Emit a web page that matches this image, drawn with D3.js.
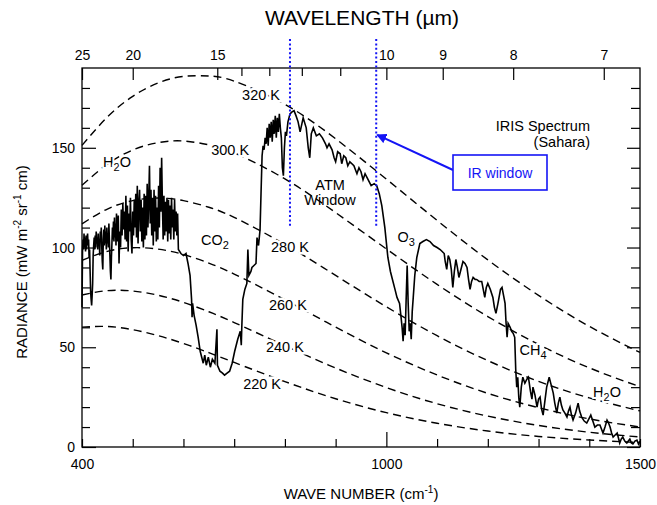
<!DOCTYPE html>
<html>
<head>
<meta charset="utf-8">
<script src="https://cdn.jsdelivr.net/npm/d3@7"></script>
<style>
  body { margin: 0; background: #fff; }
  svg { display: block; }
  text { font-family: "Liberation Sans", Arial, Helvetica, sans-serif; fill: #000; }
</style>
</head>
<body>
<svg id="chart" width="657" height="505"></svg>
<script>
// ---- Blackbody reference curves (radiance, mW m-2 sr-1 cm) ----
const bbWavenumber = [400, 450, 500, 550, 600, 650, 700, 800, 900, 1000, 1100, 1200, 1300, 1400, 1500];
const bb220 = [60.1, 60.4, 58.8, 55.8, 51.9, 47.3, 42.4, 32.8, 24.2, 17.2, 11.9, 8.0, 5.3, 3.5, 2.2];
const bb240 = [76.2, 78.4, 78.2, 76.1, 72.5, 67.8, 62.4, 50.8, 39.6, 29.8, 21.7, 15.5, 10.8, 7.4, 5.0];
const bb260 = [93.6, 98.1, 99.9, 99.2, 96.5, 92.2, 86.7, 73.8, 60.1, 47.2, 36.1, 26.9, 19.7, 14.1, 10.0];
const bb280 = [111.9, 119.3, 123.5, 124.8, 123.5, 120.2, 115.1, 101.6, 86.0, 70.3, 55.8, 43.3, 32.9, 24.6, 18.1];
const bb300 = [131.2, 141.8, 148.9, 152.6, 153.4, 151.5, 147.5, 134.4, 117.5, 99.3, 81.5, 65.4, 51.4, 39.7, 30.2];
const bb320 = [151.2, 165.4, 175.8, 182.5, 185.8, 186.0, 183.4, 171.8, 154.5, 134.3, 113.6, 93.8, 76.0, 60.5, 47.4];
const temperatureLabels = ["220 K", "240 K", "260 K", "280 K", "300 K", "320 K"];

// ---- IRIS spectrum over the Sahara, [wavenumber, radiance] by band ----
const h2oRotBand = [
  [400,70],[401,98],[402,104],[403,99],[404,107],[405,100],[406,105],[407,98],[408,106],[409,99],
  [410,104],[411,107],[412,101],[413,104],[414,95],[415,99],[416,88],[417,78],[418,74],[419,71],
  [420,76],[421,82],[422,96],[423,101],[424,105],[425,99],[426,106],[427,100],[428,108],[429,102],
  [430,105],[431,99],[432,107],[433,101],[434,104],[435,96],[436,108],[437,103],[438,110],[439,100],
  [440,93],[441,89],[442,104],[443,109],[444,101],[445,111],[446,102],[447,108],[448,99],[449,110],
  [450,102],[451,107],[452,100],[453,112],[454,104],[455,96],[456,88],[457,84],[458,95],[459,102],
  [460,110],[461,104],[462,113],[463,103],[464,115],[465,105],[466,112],[467,101],[468,117],[469,108],
  [470,103],[471.5,116],[473,92],[474.5,108],[476,100],[477.5,119],[479,106],[480.5,122],[482,109],[483.5,118],
  [485,104],[486.5,126],[488,103],[489.5,121],[491,98],[492.5,117],[494,108],[495.5,125],[497,104],[498.5,97],
  [500,118],[501.5,106],[503,124],[504.5,110],[506,127],[507.5,105],[509,131],[510.5,102],[512,122],[513.5,129],
  [515,108],[516.5,124],[518,103],[519.5,120],[521,100],[522.5,127],[524,104],[525.5,126],[527,106],[528.5,132],
  [530,110],[531.5,124],[533,141],[534.5,112],[536,129],[537.5,106],[539,125],[540.5,101],[542,129],[543.5,108],
  [545,126],[546.5,103],[548,120],[549.5,104],[551,131],[552.5,110],[554,140],[555.5,118],[557,145],[558.5,122],
  [560,104],[561.5,126],[563,106],[564.5,123],[566,108],[567.5,125],[569,103],[570.5,124],[572,107],[573.5,121],
  [575,104],[576.5,125],[578,110],[579.5,119],[581,104],[582.5,124],[584,108],[585.5,118],[587,106],[588.5,117],
  [590,99]
];
const co2Band = [
  [595,97],[600,96],[605,97],[609,92],[613,86],[616,74],[617,65],[618,72],[621,66],[625,61],[629,55],
  [633,48],[636,45],[639,42],[642,46],[645,41],[649,45],[653,40],[657,44],[662,42],[666,59],[667,41],
  [672,38],[677,37],[681,36],[686,37],[691,38],[696,42],[701,48],[707,54],[712,58],[714,51],[715,60],
  [717,74],[721,79],[725,82],[727,99],[729,86],[733,88],[735,90],[739,91],[743,92],[745,105],[748,101],
  [751,109]
];
const windowBand = [
  [753,128],[755,146],[757,151],[759,149],[761,155],[763,152],[765,160],[767,151],[769,162],[771,155],
  [773,163],[775,153],[777,164],[779,157],[781,166],[783,155],[785,165],[787,158],[789,167],[791,160],
  [793,155],[795,140],[797,136],[799,150],[801,158],[803,156],[806,163],[810,167],[814,168],[818,168.6],
  [822,166],[826,163],[830,158],[836,165],[842,160],[846,150],[849,145],[852,157],[856,160],[862,156],
  [868,157],[874,155],[880,152],[883,150],[887,152],[893,149],[897,145],[900,143],[904,148],[909,147],
  [912,142],[916,146],[920,145],[924,141],[928,143],[936,141],[942,137],[946,140],[950,138],[954,134],
  [958,137],[964,134],[970,131],[976,132],[981,131],[986,127],[991,121],[997,110],[1003,95]
];
const o3Band = [
  [1008,88],[1012,84],[1017,79],[1021,75],[1026,72],[1029,65],[1031,60],[1033,53],[1035,62],[1037,56],
  [1039,74],[1041,91],[1043,72],[1045,58],[1047,62],[1049,54],[1051,68],[1053,75],[1056,86],[1060,95],
  [1066,102],[1072,103],[1079,104],[1086,103],[1093,101],[1100,100],[1106,99],[1110,98],[1114,97],[1116,93],
  [1119,89],[1122,96],[1125,94],[1128,89],[1131,80],[1134,88],[1137,94],[1140,90],[1143,85],[1147,89],
  [1151,93],[1155,92],[1159,90],[1162,84],[1165,79],[1168,83],[1171,85],[1175,84],[1178,84],[1183,83],
  [1188,83],[1191,79],[1194,75],[1197,80],[1200,82],[1205,79],[1210,75],[1213,70],[1216,67],[1220,72],
  [1225,79],[1228,80],[1231,76],[1234,72],[1236,62],[1238,55],[1240,62],[1244,60],[1247,58],[1250,57],
  [1253,55]
];
const ch4H2oBand = [
  [1255,39],[1257,30],[1259,35],[1261,25],[1263,20],[1266,30],[1269,35],[1273,32],[1277,34],[1280,35],
  [1284,28],[1287,24],[1289,30],[1293,26],[1297,20],[1300,24],[1303,25],[1306,19],[1309,16],[1312,22],
  [1316,30],[1321,35],[1325,31],[1329,27],[1332,22],[1336,17],[1339,22],[1342,25],[1345,21],[1348,18.6],
  [1352,17],[1356,15],[1359,18],[1362,20],[1365,16],[1368,13.5],[1373,17],[1378,22],[1381,18],[1385,15],
  [1390,13],[1395,12],[1399,14],[1403,16],[1407,13],[1411,10],[1416,11],[1421,11],[1424,9],[1427,7],
  [1431,10],[1435,13.5],[1438,12],[1441,10],[1444,7],[1447,5],[1451,6],[1455,7],[1458,4],[1460,2],
  [1463,4],[1466,5],[1470,3],[1474,2],[1477,3],[1480,4],[1483,2],[1486,1.5],[1490,3],[1494,3.5],
  [1497,1.5],[1500,3]
];

// ---- Axis ticks ----
const wavenumberTicks = [400, 500, 600, 700, 800, 900, 1000, 1100, 1200, 1300, 1400, 1500];
const wavenumberLabels = [400, 1000, 1500];
const wavelengthTicks = [25, 20, 15, 14, 13, 12, 11, 10, 9, 8, 7];
const wavelengthLabels = [25, 20, 15, 10, 9, 8, 7];
const radianceTicks = [0, 10, 20, 30, 40, 50, 60, 70, 80, 90, 100, 110, 120, 130, 140, 150, 160, 170, 180];
const radianceLabels = [0, 50, 100, 150];
const windowEdges = [810, 980];

// ---- Scales ----
const x = d3.scaleLinear().domain([400, 1500]).range([82, 640]);
const y = d3.scaleLinear().domain([0, 190]).range([447, 68]);
const svg = d3.select("#chart");
const FS = 14.5;

// Plot frame
svg.append("rect")
  .attr("x", x(400)).attr("y", y(190))
  .attr("width", x(1500) - x(400)).attr("height", y(0) - y(190))
  .attr("fill", "none").attr("stroke", "#000").attr("stroke-width", 1.3);

// Bottom axis (wavenumber)
const gBottom = svg.append("g").attr("transform", `translate(0,${y(0)})`)
  .call(d3.axisBottom(x).tickValues(wavenumberTicks).tickSize(-8).tickSizeOuter(0).tickPadding(12)
    .tickFormat(d => wavenumberLabels.includes(d) ? d : ""));
gBottom.selectAll(".tick line").filter(d => d === 1000).attr("y2", -15);

// Top axis (wavelength in micrometres)
const gTop = svg.append("g").attr("transform", `translate(0,${y(190)})`)
  .call(d3.axisTop(x).tickValues(wavelengthTicks.map(l => 1e4 / l)).tickSize(-8).tickSizeOuter(0).tickPadding(8)
    .tickFormat(d => { const l = Math.round(1e4 / d); return wavelengthLabels.includes(l) ? l : ""; }));
gTop.selectAll(".tick line").filter(d => wavelengthLabels.includes(Math.round(1e4 / d))).attr("y2", 12);

// Left axis (radiance)
const gLeft = svg.append("g").attr("transform", `translate(${x(400)},0)`)
  .call(d3.axisLeft(y).tickValues(radianceTicks).tickSize(-8).tickSizeOuter(0).tickPadding(7)
    .tickFormat(d => radianceLabels.includes(d) ? d : ""));
gLeft.selectAll(".tick line").filter(d => d % 50 === 0).attr("x2", 14);

// Right axis, ticks only
const gRight = svg.append("g").attr("transform", `translate(${x(1500)},0)`)
  .call(d3.axisRight(y).tickValues(radianceTicks).tickSize(-9).tickSizeOuter(0).tickFormat(""));
gRight.selectAll(".tick line").filter(d => d % 50 === 0).attr("x2", -13);

[gBottom, gTop, gLeft, gRight].forEach(g => {
  g.select(".domain").remove();
  g.selectAll(".tick line").attr("stroke", "#000").attr("stroke-width", 1.2);
  g.selectAll(".tick text").attr("font-size", 14).attr("font-family", "Liberation Sans, Arial, sans-serif").attr("fill", "#000");
});

// Blackbody curves
const bbSeries = [bb220, bb240, bb260, bb280, bb300, bb320];
const bbLine = d3.line().x((d, i) => x(bbWavenumber[i])).y(d => y(d)).curve(d3.curveNatural);
svg.append("g").selectAll("path").data(bbSeries).join("path")
  .attr("d", bbLine)
  .attr("fill", "none").attr("stroke", "#000").attr("stroke-width", 1.4)
  .attr("stroke-dasharray", "8,5");

// Measured spectrum
const spectrum = [].concat(h2oRotBand, co2Band, windowBand, o3Band, ch4H2oBand);
svg.append("path").datum(spectrum)
  .attr("d", d3.line().x(d => x(d[0])).y(d => y(d[1])))
  .attr("fill", "none").attr("stroke", "#000").attr("stroke-width", 1.6)
  .attr("stroke-linejoin", "miter");

// Temperature labels sit on their curves
const tempLabelPos = [[755, 31.6], [800, 50.1], [806, 71.2], [810, 100.3], [692, 148.9], [753, 176.4]];
svg.append("g").selectAll("text").data(temperatureLabels).join("text")
  .attr("x", (d, i) => x(tempLabelPos[i][0]))
  .attr("y", (d, i) => y(tempLabelPos[i][1]))
  .attr("dy", "0.36em").attr("text-anchor", "middle").attr("font-size", FS)
  .attr("stroke", "#fff").attr("stroke-width", 5).attr("paint-order", "stroke")
  .text(d => d);

// Absorber labels
function chem(xp, yp, parts) {
  const t = svg.append("text").attr("x", xp).attr("y", yp).attr("dy", "0.36em")
    .attr("text-anchor", "middle").attr("font-size", FS)
    .attr("stroke", "#fff").attr("stroke-width", 4).attr("paint-order", "stroke");
  parts.forEach(([s, sub], i) => {
    const ts = t.append("tspan").text(s);
    if (sub) ts.attr("font-size", 11).attr("dy", 4);
    else if (i > 0) ts.attr("dy", -4);
  });
}
chem(x(469), y(142.9), [["H"], ["2", true], ["O"]]);
chem(x(662), y(103.8), [["CO"], ["2", true]]);
chem(x(1039), y(105.3), [["O"], ["3", true]]);
chem(x(1289), y(48.6), [["CH"], ["4", true]]);
chem(x(1435), y(27.6), [["H"], ["2", true], ["O"]]);

svg.append("text").attr("x", x(889)).attr("y", y(131.3)).attr("text-anchor", "middle")
  .attr("font-size", FS).attr("dy", "0.36em").text("ATM");
svg.append("text").attr("x", x(889)).attr("y", y(123.8)).attr("text-anchor", "middle")
  .attr("font-size", FS).attr("dy", "0.36em").text("Window");

svg.append("text").attr("x", 590).attr("y", 126).attr("text-anchor", "end")
  .attr("font-size", FS).attr("dy", "0.36em").text("IRIS Spectrum");
svg.append("text").attr("x", 590).attr("y", 142).attr("text-anchor", "end")
  .attr("font-size", FS).attr("dy", "0.36em").text("(Sahara)");

// Atmospheric window edges
const blue = "#1414f5";
svg.append("g").selectAll("line").data(windowEdges).join("line")
  .attr("x1", d => x(d)).attr("x2", d => x(d))
  .attr("y1", 39).attr("y2", y(110))
  .attr("stroke", blue).attr("stroke-width", 2).attr("stroke-dasharray", "2,2.4");

// IR window callout
svg.append("defs").append("marker")
  .attr("id", "head").attr("viewBox", "0 0 10 10").attr("refX", 9).attr("refY", 5)
  .attr("markerWidth", 5).attr("markerHeight", 5).attr("orient", "auto")
  .append("path").attr("d", "M0,0 L10,5 L0,10 z").attr("fill", blue);
svg.append("line").attr("x1", 453).attr("y1", 170).attr("x2", x(982)).attr("y2", y(156.5))
  .attr("stroke", blue).attr("stroke-width", 2).attr("marker-end", "url(#head)");
svg.append("rect").attr("x", 453).attr("y", 155).attr("width", 94).attr("height", 35)
  .attr("fill", "#fff").attr("stroke", blue).attr("stroke-width", 1.6);
svg.append("text").attr("x", 500).attr("y", 172.5).attr("dy", "0.36em").attr("text-anchor", "middle")
  .attr("font-family", "DejaVu Sans, sans-serif").attr("font-size", 14).style("fill", blue).text("IR window");

// Axis titles
svg.append("text").attr("x", 362).attr("y", 25).attr("text-anchor", "middle")
  .attr("font-size", 21).text("WAVELENGTH (\u00b5m)");
const xt = svg.append("text").attr("x", 361).attr("y", 499).attr("text-anchor", "middle").attr("font-size", 15);
xt.append("tspan").text("WAVE NUMBER (cm");
xt.append("tspan").attr("font-size", 10).attr("dy", -6).text("-1");
xt.append("tspan").attr("dy", 6).text(")");
const yt = svg.append("text").attr("transform", "translate(27,262) rotate(-90)").attr("text-anchor", "middle").attr("font-size", 15);
yt.append("tspan").text("RADIANCE (mW m");
yt.append("tspan").attr("font-size", 10).attr("dy", -6).text("-2");
yt.append("tspan").attr("dy", 6).text(" sr");
yt.append("tspan").attr("font-size", 10).attr("dy", -6).text("-1");
yt.append("tspan").attr("dy", 6).text(" cm)");
</script>
</body>
</html>
